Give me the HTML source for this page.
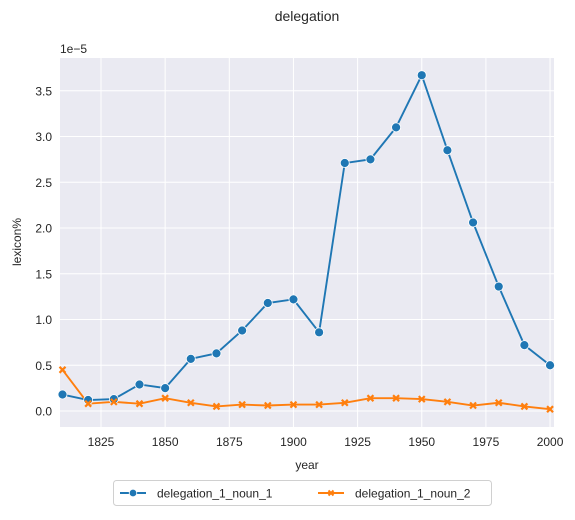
<!DOCTYPE html>
<html><head><meta charset="utf-8"><style>
body{margin:0;background:#fff;font-family:"Liberation Sans",Arial,sans-serif;}
svg text{font-family:"Liberation Sans",Arial,sans-serif;fill:#262626;}
</style></head><body>
<svg id="chart" width="575" height="515">
<text x="307" y="21" font-size="14" text-anchor="middle">delegation</text>
<rect x="60" y="58" width="494" height="369" fill="#eaeaf2"/>
<g id="grid"></g><g id="ticks"></g><g id="series"></g>
<text x="60" y="53" font-size="12">1e−5</text>
<text x="307" y="469" font-size="12" text-anchor="middle">year</text>
<text x="21" y="242" font-size="12" text-anchor="middle" transform="rotate(-90 21 242)">lexicon%</text>
<g>
<rect x="113.5" y="480.5" width="378" height="25" rx="3" fill="#fff" stroke="#d0d0d0"/>
<g>
<line x1="120" y1="493" x2="146" y2="493" stroke="#1f77b4" stroke-width="2"/><circle cx="133" cy="493" r="3.8" fill="#1f77b4" stroke="#fff" stroke-width="0.8"/>
<text x="157" y="497.5" font-size="12">delegation_1_noun_1</text></g>
<g>
<line x1="318" y1="493" x2="344" y2="493" stroke="#ff7f0e" stroke-width="2"/><path d="M328.5,490.5L333.5,495.5M328.5,495.5L333.5,490.5" stroke="#ff7f0e" stroke-width="2"/>
<text x="355" y="497.5" font-size="12">delegation_1_noun_2</text></g>
</g>
</svg>
<script>
const years=[1810,1820,1830,1840,1850,1860,1870,1880,1890,1900,1910,1920,1930,1940,1950,1960,1970,1980,1990,2000];
const noun1=[0.18,0.12,0.13,0.29,0.25,0.57,0.63,0.88,1.18,1.22,0.86,2.71,2.75,3.10,3.67,2.85,2.06,1.36,0.72,0.50];
const noun2=[0.45,0.08,0.10,0.08,0.14,0.09,0.05,0.07,0.06,0.07,0.07,0.09,0.14,0.14,0.13,0.10,0.06,0.09,0.05,0.02];
const xTicks=[1825,1850,1875,1900,1925,1950,1975,2000];
const yTicks=[0,0.5,1,1.5,2,2.5,3,3.5];
const yLabels=["0.0","0.5","1.0","1.5","2.0","2.5","3.0","3.5"];
const X=v=>101+(v-1825)*2.566;
const Y=v=>411-v*91.5;
const NS="http://www.w3.org/2000/svg";
function mk(tag,attrs,parent){const e=document.createElementNS(NS,tag);for(const k in attrs)e.setAttribute(k,attrs[k]);parent.appendChild(e);return e;}
const grid=document.getElementById('grid'),ticks=document.getElementById('ticks'),ser=document.getElementById('series');
xTicks.forEach(t=>{
 const l=mk('line',{x1:X(t),x2:X(t),y1:58,y2:427,stroke:'#fff','stroke-width':1},grid);
 
 
 const tx=mk('text',{x:X(t),y:446,'font-size':12,'text-anchor':'middle'},ticks);tx.textContent=t;
 
 
});
yTicks.forEach((t,i)=>{
 const l=mk('line',{x1:60,x2:554,y1:Y(t),y2:Y(t),stroke:'#fff','stroke-width':1},grid);
 
 
 const tx=mk('text',{x:52,y:Y(t)+4.5,'font-size':12,'text-anchor':'end'},ticks);tx.textContent=yLabels[i];
 
 
});
function line(vals,color,name){
 const p=mk('polyline',{points:years.map((y,i)=>X(y)+','+Y(vals[i])).join(' '),fill:'none',stroke:color,'stroke-width':1.9},ser);
 
 
}
line(noun1,'#1f77b4','noun-1');line(noun2,'#ff7f0e','noun-2');
years.forEach((y,i)=>{
 const c=mk('circle',{cx:X(y),cy:Y(noun1[i]),r:4.5,fill:'#1f77b4',stroke:'#fff','stroke-width':0.8},ser);
 
 
 const x=X(y),yy=Y(noun2[i]),d=3;
 const m=mk('path',{d:`M${x-d},${yy-d}L${x+d},${yy+d}M${x-d},${yy+d}L${x+d},${yy-d}`,stroke:'#ff7f0e','stroke-width':2.2},ser);
 
 
});
</script>
</body></html>
